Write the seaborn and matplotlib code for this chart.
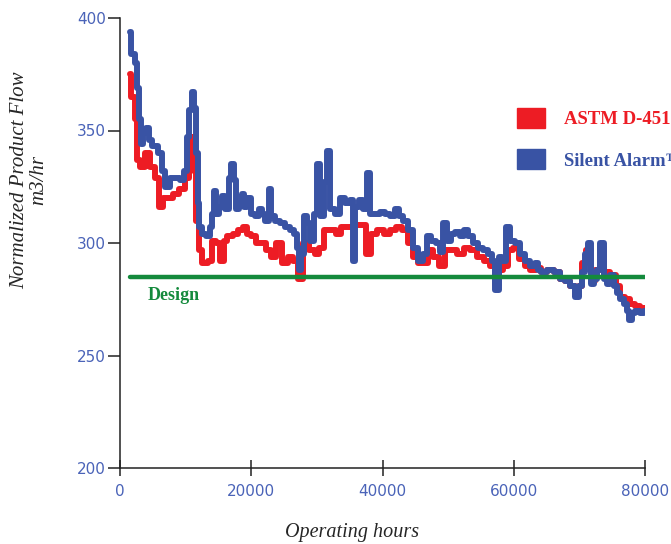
import numpy as np
import pandas as pd
import matplotlib
matplotlib.use("Agg")
import matplotlib.pyplot as plt
from matplotlib.patches import Patch
import seaborn as sns

# values
silent_hours = [1520, 1980, 2440, 2740, 3050, 3350, 3810, 4120, 4570, 5330,
                6100, 6550, 7160, 7930, 8690, 9450, 9910, 10360, 10820, 11130,
                11430, 11740, 11890, 12190, 12650, 13410, 13870, 14170, 14480, 14780,
                15240, 15700, 16310, 16760, 17070, 17530, 17830, 18290, 18750, 19050,
                19660, 20270, 20880, 21340, 21790, 22400, 22860, 23170, 23930, 24690,
                25450, 26210, 26670, 27130, 27430, 27740, 28190, 28650, 29260, 29720,
                30180, 30790, 31240, 31700, 32310, 33070, 33830, 34600, 35360, 35510,
                36120, 36580, 37340, 37800, 38410, 39170, 39930, 40690, 41450, 42220,
                42670, 43430, 44200, 44960, 45720, 46480, 46940, 47700, 48460, 48920,
                49530, 49990, 50750, 51360, 52120, 52580, 53340, 54100, 54860, 55630,
                56390, 56850, 57460, 57910, 58370, 59130, 59740, 60500, 61270, 62030,
                62790, 63550, 63700, 64470, 65530, 66600, 67360, 68120, 68890, 69650,
                70100, 70560, 71170, 71480, 71930, 72390, 72850, 73460, 73910, 74370,
                74980, 75440, 75900, 76510, 76960, 77420, 77720, 78180, 78790, 79550,
                80000]
silent_flow = [394, 384, 380, 369, 355, 344, 349, 351, 346, 343,
               340, 332, 325, 329, 329, 328, 332, 347, 359, 367,
               360, 340, 318, 307, 304, 303, 307, 313, 323, 313,
               316, 321, 315, 329, 335, 328, 315, 318, 322, 316,
               320, 313, 312, 315, 313, 310, 324, 312, 310, 309,
               307, 306, 304, 298, 288, 295, 312, 309, 301, 313,
               335, 312, 327, 341, 315, 313, 320, 318, 319, 292,
               316, 319, 315, 331, 313, 313, 314, 313, 312, 315,
               312, 310, 306, 298, 292, 295, 303, 301, 300, 296,
               309, 301, 304, 305, 303, 306, 303, 300, 298, 297,
               295, 292, 279, 294, 292, 307, 301, 300, 295, 292,
               290, 291, 288, 287, 288, 287, 284, 283, 281, 276,
               281, 287, 295, 300, 282, 284, 288, 300, 284, 282,
               286, 281, 278, 275, 273, 270, 266, 269, 270, 269,
               270]

astm_hours = [1520, 1980, 2590, 2740, 3350, 4120, 4880, 5640, 6100, 6860,
              7620, 8380, 9450, 10210, 10670, 10970, 11430, 11740, 12190, 12950,
              13720, 14170, 14940, 15550, 16000, 16760, 17530, 18290, 19050, 19510,
              20270, 21030, 21790, 22560, 23320, 24080, 25150, 25910, 26670, 27430,
              28190, 29260, 30020, 30480, 31550, 32460, 33220, 33990, 35050, 36120,
              37030, 37800, 38560, 39620, 40690, 41610, 42370, 43430, 44200, 44960,
              45720, 46480, 47240, 48010, 49070, 49840, 50750, 51820, 52880, 53800,
              54860, 55930, 56850, 57460, 57910, 58670, 59440, 60200, 61270, 62030,
              62940, 63700, 64470, 65530, 66600, 67360, 68120, 68890, 69650, 70100,
              70560, 71480, 71930, 72850, 73460, 73910, 74220, 75130, 75900, 76510,
              77270, 78030, 78790, 79550, 80000]
astm_flow = [375, 365, 355, 337, 334, 340, 334, 329, 316, 320,
             320, 322, 324, 329, 343, 347, 332, 310, 297, 291,
             292, 301, 300, 292, 301, 303, 304, 306, 307, 304,
             303, 300, 300, 297, 294, 300, 291, 294, 292, 284,
             300, 297, 295, 298, 306, 306, 304, 307, 307, 308,
             308, 295, 304, 306, 304, 306, 307, 306, 300, 294,
             291, 291, 297, 294, 290, 297, 297, 295, 298, 297,
             294, 292, 290, 282, 288, 290, 297, 298, 293, 290,
             288, 289, 287, 288, 287, 284, 283, 281, 277, 281,
             291, 297, 283, 288, 298, 285, 287, 286, 281, 276,
             275, 273, 272, 271, 271]

design_hours = [1500, 80000]
design_flow = [285, 285]

legend_labels = ["ASTM D-4516", "Silent Alarm\u2122"]
red = "#ed1c24"
blue = "#3953a4"
green = "#148a3c"
tick_blue = "#4a63b8"

sns.set_style("white")
plt.rcParams["font.family"] = ["DejaVu Sans"]

fig = plt.figure(figsize=(6.71, 5.44), dpi=100)
ax = fig.add_axes([120 / 671, 76 / 544, 525 / 671, 450 / 544])

sns.lineplot(x=astm_hours, y=astm_flow, ax=ax, color=red, lw=4.3,
             drawstyle="steps-mid", zorder=2)
sns.lineplot(x=silent_hours, y=silent_flow, ax=ax, color=blue, lw=4.3,
             drawstyle="steps-mid", zorder=3)
sns.lineplot(x=design_hours, y=design_flow, ax=ax, color=green, lw=3.2,
             zorder=4)

ax.set_xlim(0, 80000)
ax.set_ylim(200, 400)
ax.set_xticks([0, 20000, 40000, 60000, 80000])
ax.set_yticks([200, 250, 300, 350, 400])
for s in ["top", "right"]:
    ax.spines[s].set_visible(False)
for s in ["left", "bottom"]:
    ax.spines[s].set_color("#222222")
    ax.spines[s].set_linewidth(1.1)
ax.tick_params(axis="y", direction="out", length=9, width=1.1, color="#222222",
               labelcolor=tick_blue, labelsize=11, pad=1, left=True)
ax.tick_params(axis="x", direction="inout", length=11, width=1.1, color="#222222",
               labelcolor=tick_blue, labelsize=11, pad=6, bottom=True)
ax.set_xlabel("")
ax.set_ylabel("")

fig.text(352 / 671, 1 - 533 / 544, "Operating hours", ha="center", va="center",
         family="Liberation Serif", style="italic", fontsize=14.5)
fig.text(29 / 671, 1 - 180 / 544, "Normalized Product Flow\nm3/hr", ha="center",
         va="center", rotation=90, family="Liberation Serif", style="italic",
         fontsize=15, linespacing=1.0)
ax.text(4200, 276.5, "Design", color=green, fontweight="bold",
        family="Liberation Serif", fontsize=13, va="center")

handles = [Patch(facecolor=red, edgecolor=red), Patch(facecolor=blue, edgecolor=blue)]
leg = fig.legend(handles, legend_labels, loc="upper left",
                 bbox_to_anchor=(500 / 671, 1 - 91 / 544), frameon=False,
                 handlelength=1.5, handleheight=1.3, handletextpad=1.0,
                 labelspacing=1.1, prop={"family": "Liberation Serif",
                                         "weight": "bold", "size": 13.5})
for t, c in zip(leg.get_texts(), [red, blue]):
    t.set_color(c)

fig.savefig("out.png", dpi=100)
